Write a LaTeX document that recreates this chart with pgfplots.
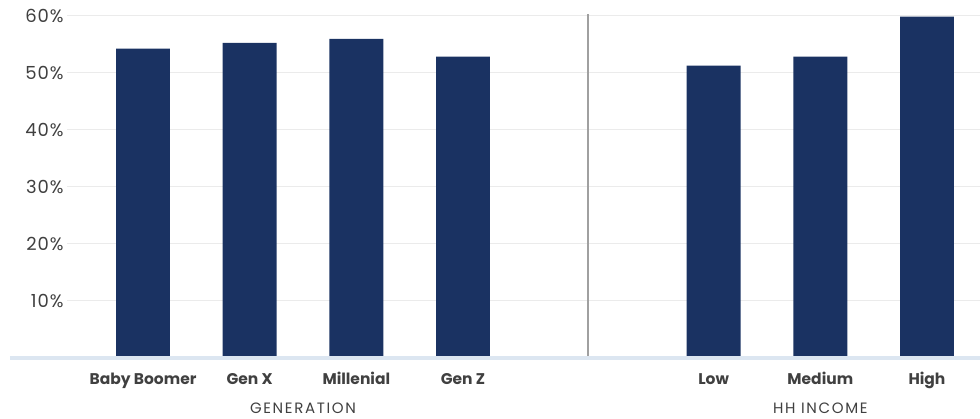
\documentclass[border=0pt]{standalone}
\usepackage{pgfplots}
\pgfplotsset{compat=1.18}
\usepackage{fontspec}
\setmainfont{Poppins}
\newfontfamily\tickfont[LetterSpace=5]{Poppins}
\newfontfamily\titlefont[LetterSpace=11]{Poppins}
\definecolor{navy}{HTML}{1A3262}
\definecolor{gridgray}{HTML}{EBEBEB}
\definecolor{basebl}{HTML}{DCE6F1}
\definecolor{labgray}{HTML}{404040}
\definecolor{sepgray}{HTML}{A0A0A0}
\begin{document}
\begin{tikzpicture}[x=1pt,y=1pt]
\useasboundingbox (0,0) rectangle (980,419);
\begin{axis}[
  at={(67pt,61pt)}, anchor=south west,
  scale only axis, width=913pt, height=342.5pt,
  xmin=-0.7125, xmax=7.847, ymin=0, ymax=60,
  axis line style={draw=none},
  tick style={draw=none},
  ybar, bar width=0.506,
  ymajorgrids, grid style={gridgray, line width=1pt},
  xtick={0,1,2,3,5.35,6.35,7.35},
  xticklabels={Baby Boomer, Gen X, Millenial, Gen Z, Low, Medium, High},
  xticklabel style={font=\bfseries\fontsize{15.5}{16}\selectfont, text=labgray, anchor=base, yshift=-22.5pt},
  ytick={10,20,30,40,50,60},
  yticklabels={10\%,20\%,30\%,40\%,50\%,60\%},
  yticklabel style={font=\tickfont\fontsize{18}{18}\selectfont, text=labgray, xshift=0pt},
  clip=false,
]
\addplot[fill=navy, draw=none] coordinates {
  (0,54.2) (1,55.2) (2,55.9) (3,52.8)
  (5.35,51.2) (6.35,52.8) (7.35,59.8)};
% divider between the two groups
\draw[sepgray, line width=1.6pt] (axis cs:4.17,0) -- (axis cs:4.17,60.2);
% baseline
\draw[basebl, line width=4pt] ([xshift=-57pt]axis cs:-0.7125,0) -- (axis cs:7.847,0);
% group titles
\node[font=\titlefont\fontsize{15}{15}\selectfont, text=labgray] at ([yshift=-50pt]axis cs:1.5,0) {GENERATION};
\node[font=\titlefont\fontsize{15}{15}\selectfont, text=labgray] at ([yshift=-50pt]axis cs:6.35,0) {HH INCOME};
\end{axis}
\end{tikzpicture}
\end{document}
